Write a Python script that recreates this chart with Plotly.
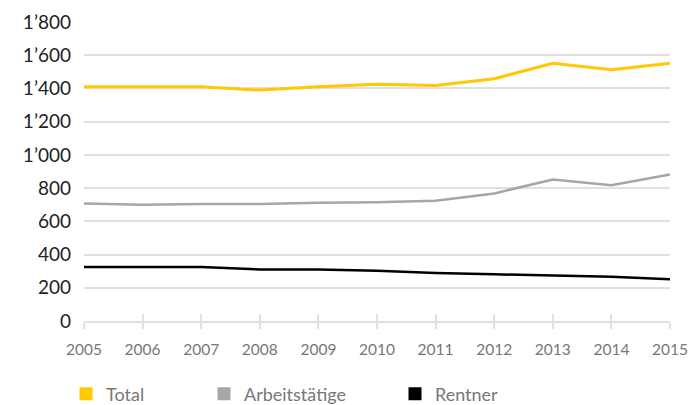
import plotly.graph_objects as go

years = list(range(2005, 2016))
total = [1410, 1410, 1410, 1390, 1410, 1425, 1418, 1458, 1552, 1512, 1552]
arbeit = [708, 700, 705, 705, 712, 715, 724, 768, 852, 818, 882]
rentner = [325, 325, 325, 310, 310, 302, 289, 281, 274, 266, 251]

names = ["Total", "Arbeitstätige", "Rentner"]
colors = ["#FFC800", "#A6A6A6", "#000000"]
widths = [3, 2.5, 2.5]
series = [total, arbeit, rentner]

FONT = "Lato"

fig = go.Figure()
for n, c, w, s in zip(names, colors, widths, series):
    fig.add_trace(go.Scatter(x=years, y=s, mode="lines", name=n,
                             line=dict(color=c, width=w), showlegend=False))

legend_names = ["legend", "legend2", "legend3"]
legend_x = [86, 224, 415]
for n, c, lg in zip(names, colors, legend_names):
    fig.add_trace(go.Scatter(x=[None], y=[None], mode="markers", name=n,
                             marker=dict(symbol="square", size=13, color=c),
                             showlegend=True, legend=lg))

W, H = 690, 405
ml, mr, mt, mb = 84, 20, 22, 84
legend_common = dict(orientation="h", yanchor="middle", xanchor="left",
                     font=dict(family=FONT, size=18, color="#777777"),
                     bgcolor="rgba(0,0,0,0)", itemwidth=30)
layout_legends = {}
for lg, lx in zip(legend_names, legend_x):
    d = dict(legend_common)
    d["x"] = (lx - ml - 20) / (W - ml - mr)
    d["y"] = -(394 - (H - mb)) / (H - mt - mb)
    layout_legends[lg] = d

fig.update_layout(
    width=W, height=H,
    margin=dict(l=ml, r=mr, t=mt, b=mb, autoexpand=False),
    paper_bgcolor="white", plot_bgcolor="white",
    separators=".’",
    font=dict(family=FONT),
    xaxis=dict(range=[2005, 2015], tickvals=years, showgrid=False,
               showline=True, linecolor="#E0E0E0", linewidth=1.5,
               ticks="outside", ticklen=6, tickcolor="#E0E0E0", tickwidth=1.5,
               tickfont=dict(family=FONT, size=15.5, color="#777777"),
               ticklabelstandoff=8, zeroline=False, automargin=False),
    xaxis2=dict(range=[2005, 2015], tickvals=years, overlaying="x",
                showgrid=False, showline=False, ticks="inside", ticklen=7,
                tickcolor="#E0E0E0", tickwidth=1.5, showticklabels=False,
                side="bottom", zeroline=False, automargin=False),
    yaxis=dict(range=[0, 1800], dtick=200, tickformat=",d",
               showgrid=True, gridcolor="#E0E0E0", gridwidth=1.5,
               zeroline=False, showline=False, ticks="",
               ticklabelstandoff=12, automargin=False,
               tickfont=dict(family=FONT, size=19, color="#222222")),
    **layout_legends,
)
fig.add_trace(go.Scatter(x=[2005], y=[0], xaxis="x2", mode="markers",
                         marker=dict(opacity=0), showlegend=False, hoverinfo="skip"))

fig.write_html("out.html")
